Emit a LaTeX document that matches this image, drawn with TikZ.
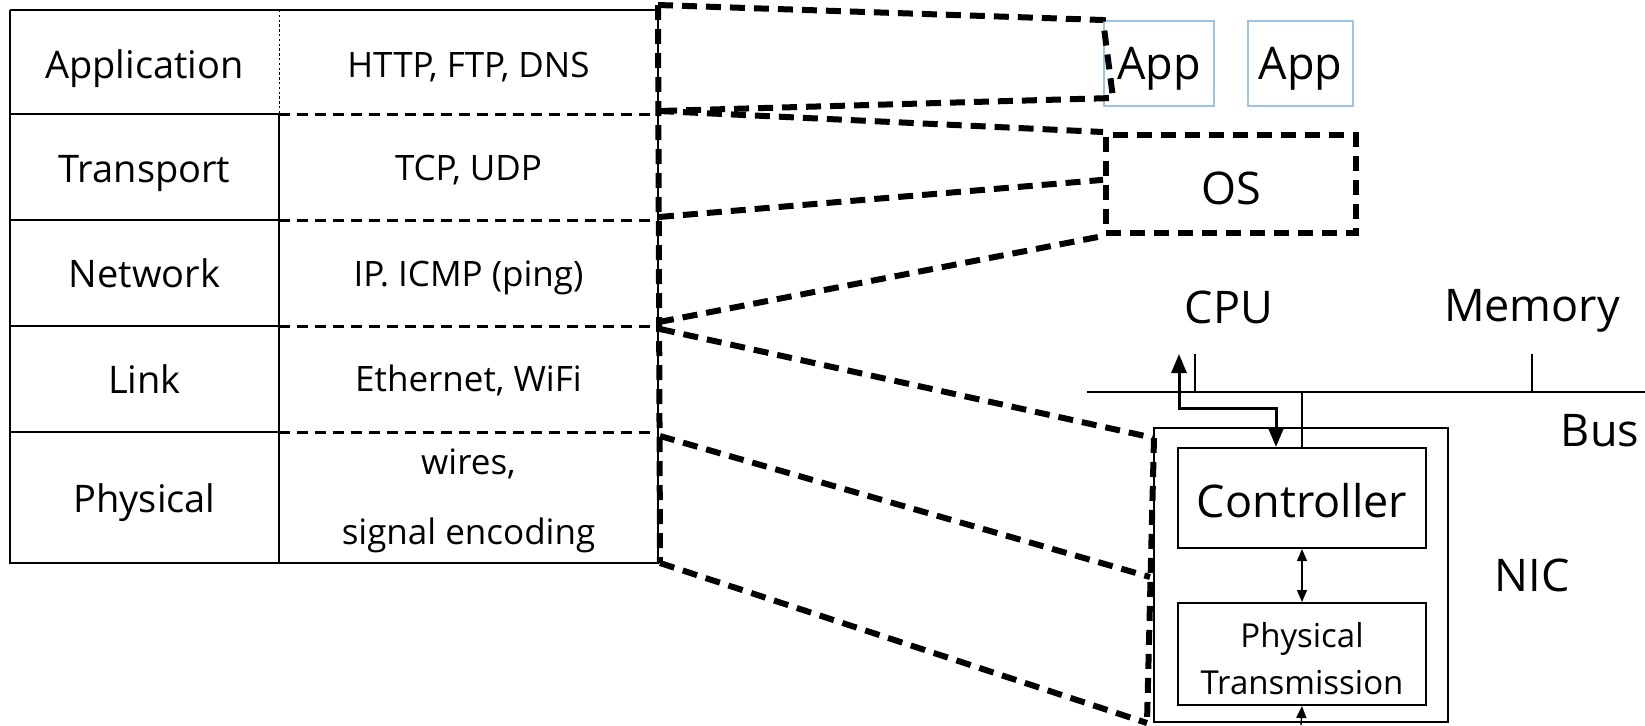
\documentclass[tikz,border=0pt]{standalone}
\usepackage{fontspec}
\setmainfont{Open Sans}
\usetikzlibrary{arrows.meta,calc}

\definecolor{appblue}{RGB}{157,195,230}

% lower a label's ink inside its box while keeping the box size
\newcommand{\sinkby}[2]{\raisebox{-#1}[\height][\depth]{#2}}

\tikzset{
  thinrule/.style={line width=0.75pt},
  rowsplit/.style={line width=1.5pt, dash pattern=on 5.5pt off 3.5pt},
  zoomline/.style={line width=3pt, dash pattern=on 7.5pt off 4.5pt},
  colsplit/.style={line width=0.5pt, dash pattern=on 1.2pt off 1.2pt},
  bigtext/.style={font=\fontsize{19}{23}\selectfont},
  smalltext/.style={font=\fontsize{17.5}{21}\selectfont, align=center},
  hwtext/.style={font=\fontsize{22.5}{27}\selectfont},
  appbox/.style={draw=appblue, line width=1pt, inner sep=0pt,
    minimum height=42.5pt, hwtext},
  hwbox/.style={draw, line width=1pt, inner sep=0pt},
  bigarrow/.style={line width=1.5pt, {Triangle[length=9.5pt,width=7.5pt]}-{Triangle[length=9.5pt,width=7.5pt]}},
  smallarrow/.style={line width=0.7pt, {Triangle[length=6pt,width=5pt]}-{Triangle[length=6pt,width=5pt]}},
}

\begin{document}
\begin{tikzpicture}[x=0.5pt, y=-0.5pt]
\useasboundingbox (0,0) rectangle (1645,725);

% ---------- protocol stack table ----------
\draw[thinrule] (10,10) -- (658,10);
\draw[thinrule] (10,10) -- (10,563) -- (658,563) -- (658,10);
\draw[colsplit] (279,10) -- (279,114);
\draw[thinrule] (279,114) -- (279,563);
\foreach \y in {114,220,326,432} {
  \draw[thinrule] (10,\y) -- (279,\y);
  \draw[rowsplit] (279,\y) -- (658,\y);
}

\node[bigtext] (lapp)  at (144.5,69)  {Application};
\node[bigtext] (ltrn)  at (144.5,173) {Transport};
\node[bigtext] (lnet)  at (144.5,273) {Network};
\node[bigtext] (llnk)  at (144.5,379) {Link};
\node[bigtext] (lphy)  at (144.5,503) {Physical};

\node[smalltext] (papp) at (468.5,67)  {HTTP, FTP, DNS};
\node[smalltext] (ptrn) at (468.5,170) {TCP, UDP};
\node[smalltext] (pnet) at (468.5,278) {IP. ICMP (ping)};
\node[smalltext] (plnk) at (468.5,380) {Ethernet, WiFi};
\node[smalltext] (pphy) at (468.5,501) {wires,\\[14pt]signal encoding};

% right edge of the stack, where each layer boundary starts
\coordinate (r0) at (658,5);
\coordinate (r1) at (659,111);
\coordinate (r2) at (659,217);
\coordinate (r3) at (659,322);
\coordinate (r3b) at (660,329);
\coordinate (r4) at (660,436);
\coordinate (r5) at (660,563);

% ---------- host software ----------
\node[appbox, minimum width=55pt]   (app1) at (1159,63.5)   {\sinkby{2.6pt}{App}};
\node[appbox, minimum width=52.5pt] (app2) at (1300.5,63.5) {\sinkby{2.6pt}{App}};
\node[zoomline, draw, inner sep=0pt, minimum width=125pt, minimum height=49pt,
      hwtext] (os) at (1231,184) {\sinkby{2pt}{OS}};

% ---------- hardware ----------
\node[hwtext] (cpu) at (1229,307) {CPU};
\node[hwtext] (mem) at (1532,311) {Memory};
\node[hwtext] (bus) at (1600,431) {Bus};
\node[hwtext] (nictext) at (1532,575) {NIC};

\coordinate (busL) at (1087,392);
\coordinate (busR) at (1645,392);
\draw[line width=1pt] (busL) -- (busR);
\coordinate (cputick) at (1195,354);
\coordinate (memtick) at (1532,354);
\draw[line width=0.75pt] (cputick) -- (cputick |- busL);
\draw[line width=0.75pt] (memtick) -- (memtick |- busL);

\node[hwbox, minimum width=147pt, minimum height=147pt] (nic) at (1301,575) {};
\node[hwbox, minimum width=124pt, minimum height=50pt, hwtext] (ctrl) at (1302,498)
      {\sinkby{1.5pt}{Controller}};
\node[hwbox, minimum width=124pt, minimum height=51pt,
      font=\fontsize{16.5}{23.5}\selectfont, align=center] (phys) at (1302,654)
      {\sinkby{2.2pt}{Physical}\\\sinkby{2.2pt}{Transmission}};

\draw[line width=0.75pt] (ctrl.north) -- (ctrl.north |- busL);
\draw[smallarrow] (ctrl.south) -- (phys.north);
\coordinate (wire) at (1301,725);
\draw[line width=0.7pt, -{Triangle[length=6pt,width=5pt]}] (wire) -- (phys.south);

\coordinate (cputip) at (1179,354);
\draw[bigarrow] (cputip) -- ++(0,54) -| ([xshift=-13pt]ctrl.north);

% ---------- layer to component mapping ----------
\coordinate (appfoot) at (1113,98);
\coordinate (osmid) at ($(os.north west)!0.46!(os.south west)$);
\coordinate (nictop) at (1154,438);
\coordinate (nicmid) at (1150,577);
\coordinate (nicbot) at (1147,723);

\draw[zoomline] (r0) -- (r5);
\draw[zoomline] (r0) -- (app1.north west) -- (appfoot) -- (r1);
\draw[zoomline] (r1) -- (os.north west);
\draw[zoomline] (r2) -- (osmid);
\draw[zoomline] (r3) -- (os.south west);
\draw[zoomline] (r3b) -- (nictop);
\draw[zoomline] (r4) -- (nicmid);
\draw[zoomline] (r5) -- (nicbot);
\draw[zoomline] (nictop) -- (nicbot);

\end{tikzpicture}
\end{document}
